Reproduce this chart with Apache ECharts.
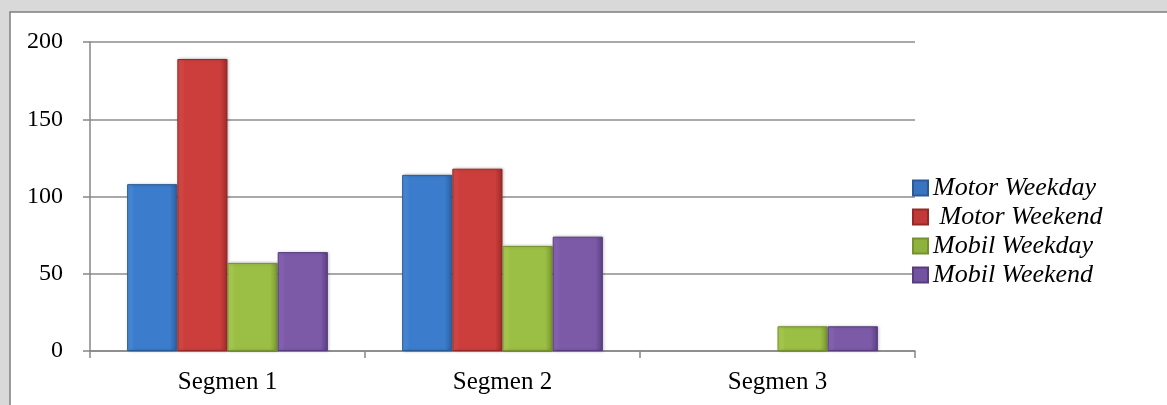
<!DOCTYPE html>
<html>
<head>
<meta charset="utf-8">
<style>
  html, body { margin: 0; padding: 0; background: #d9d9d9; }
  #chart { width: 1167px; height: 405px; }
</style>
<script src="https://cdn.jsdelivr.net/npm/echarts@6/dist/echarts.min.js"></script>
</head>
<body>
<div id="chart"></div>
<script>
// chart data (null = no bar drawn)
const categories = ['Segmen 1', 'Segmen 2', 'Segmen 3']
const motorWeekday = [108, 114, null]
const motorWeekend = [189, 118, null]
const mobilWeekday = [57, 68, 16]
const mobilWeekend = [64, 74, 16]
const seriesNames = ['Motor Weekday', ' Motor Weekend', 'Mobil Weekday', 'Mobil Weekend']

const font = 'Liberation Serif, Times New Roman, serif'

function barGradient(light, mid, dark) {
  return new echarts.graphic.LinearGradient(0, 0, 1, 0, [
    { offset: 0, color: light },
    { offset: 0.15, color: mid },
    { offset: 0.85, color: mid },
    { offset: 1, color: dark }
  ])
}

const palette = [
  { fill: barGradient('#4f93dd', '#3b7ccc', '#2c5f9e'), border: '#2a5a95', legend: '#3a74c0' },
  { fill: barGradient('#d9504e', '#cc3e3c', '#9e2b2a'), border: '#962827', legend: '#c23a38' },
  { fill: barGradient('#b2d35a', '#9bbf45', '#78962f'), border: '#75922e', legend: '#8fb23c' },
  { fill: barGradient('#8f6bbd', '#7c5aa8', '#5c4083'), border: '#573d7d', legend: '#7352a0' }
]

const dataSets = [motorWeekday, motorWeekend, mobilWeekday, mobilWeekend]

const chart = echarts.init(document.getElementById('chart'))

chart.setOption({
  backgroundColor: '#d9d9d9',
  animation: false,
  graphic: [
    {
      type: 'rect',
      z: -10,
      shape: { x: 10, y: 12, width: 1200, height: 430 },
      style: { fill: '#ffffff', stroke: '#7f7f7f', lineWidth: 1.5 }
    }
  ],
  grid: {
    left: 90,
    top: 42,
    width: 825,
    height: 309
  },
  legend: {
    orient: 'vertical',
    left: 907,
    top: 170,
    itemWidth: 15,
    itemHeight: 15,
    itemGap: 3,
    icon: 'rect',
    textStyle: {
      fontFamily: font,
      fontStyle: 'italic',
      fontSize: 26,
      lineHeight: 26,
      color: '#000'
    },
    data: seriesNames.map((n, i) => ({ name: n, itemStyle: { color: palette[i].legend } }))
  },
  xAxis: {
    type: 'category',
    data: categories,
    axisLine: { lineStyle: { color: '#868686', width: 1.5 } },
    axisTick: { show: true, length: 7, lineStyle: { color: '#868686', width: 1.5 } },
    axisLabel: {
      fontFamily: font,
      fontSize: 25,
      color: '#000',
      margin: 19
    }
  },
  yAxis: {
    type: 'value',
    min: 0,
    max: 200,
    interval: 50,
    axisLine: { show: true, lineStyle: { color: '#868686', width: 1.5 } },
    axisTick: { show: true, length: 7, lineStyle: { color: '#868686', width: 1.5 } },
    axisLabel: {
      fontFamily: font,
      fontSize: 24,
      color: '#000',
      margin: 27
    },
    splitLine: { lineStyle: { color: '#8c8c8c', width: 1.5 } }
  },
  series: dataSets.map((d, i) => ({
    name: seriesNames[i],
    type: 'bar',
    data: d,
    barGap: '0%',
    barCategoryGap: '27%',
    itemStyle: {
      color: palette[i].fill,
      borderColor: palette[i].border,
      borderWidth: 1,
      shadowColor: 'rgba(0,0,0,0.25)',
      shadowBlur: 3,
      shadowOffsetX: 1
    }
  }))
})
</script>
</body>
</html>
